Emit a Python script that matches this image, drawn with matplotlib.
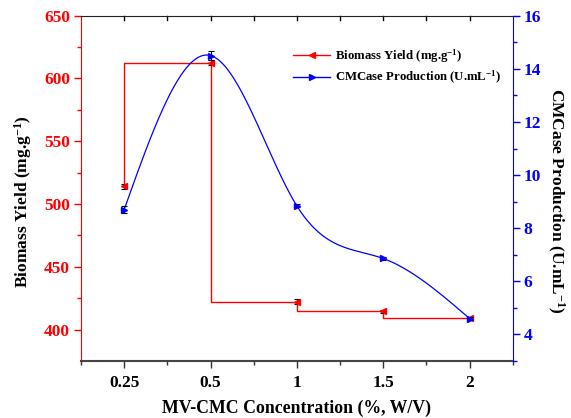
import numpy as np
import matplotlib
matplotlib.use("Agg")
import matplotlib.pyplot as plt
from matplotlib.lines import Line2D
from matplotlib.ticker import FixedLocator, MultipleLocator

plt.rcParams['font.family'] = ['Liberation Serif', 'DejaVu Serif']
plt.rcParams['font.weight'] = 'bold'
plt.rcParams['mathtext.fontset'] = 'custom'
plt.rcParams['mathtext.rm'] = 'Liberation Serif:bold'
plt.rcParams['mathtext.bf'] = 'Liberation Serif:bold'
plt.rcParams['mathtext.it'] = 'Liberation Serif:bold'
plt.rcParams['mathtext.default'] = 'rm'

# ---- data ----
categories = ['0.25', '0.5', '1', '1.5', '2']
biomass = [514, 612.5, 422, 414.5, 409]
biomass_err = [2.0, 2.0, 2.0, 1.5, 1.0]
cmcase = [8.7, 14.5, 8.84, 6.86, 4.6]
cmcase_err = [0.12, 0.18, 0.06, 0.06, 0.05]

pos = np.arange(1, len(categories) + 1, dtype=float)


def natural_spline(x, y, n=300):
    x = np.asarray(x, float); y = np.asarray(y, float)
    k = len(x)
    h = np.diff(x)
    A = np.zeros((k, k)); b = np.zeros(k)
    A[0, 0] = 1; A[-1, -1] = 1
    for i in range(1, k - 1):
        A[i, i - 1] = h[i - 1]
        A[i, i] = 2 * (h[i - 1] + h[i])
        A[i, i + 1] = h[i]
        b[i] = 3 * ((y[i + 1] - y[i]) / h[i] - (y[i] - y[i - 1]) / h[i - 1])
    c = np.linalg.solve(A, b)
    xs = np.linspace(x[0], x[-1], n)
    ys = np.empty_like(xs)
    for j, xv in enumerate(xs):
        i = min(np.searchsorted(x, xv, side='right') - 1, k - 2)
        bb = (y[i + 1] - y[i]) / h[i] - h[i] * (2 * c[i] + c[i + 1]) / 3
        d = (c[i + 1] - c[i]) / (3 * h[i])
        t = xv - x[i]
        ys[j] = y[i] + bb * t + c[i] * t ** 2 + d * t ** 3
    return xs, ys


W, H = 571, 418
fig = plt.figure(figsize=(W / 100, H / 100), dpi=100)
ax_h = (361 - 15.7)
ax_w = (512.7 - 81)
ax = fig.add_axes([81 / W, 1 - 361 / H, ax_w / W, ax_h / H])
ax2 = ax.twinx()

# biomass step line
ax.plot(pos, biomass, drawstyle='steps-pre', color='red', lw=1.0, zorder=2)
ax.errorbar(pos, biomass, yerr=biomass_err, fmt='<', color='red', ms=4,
            ecolor='black', elinewidth=0.8, capsize=2.5, capthick=0.8, zorder=3)

# cmcase spline
xs, ys = natural_spline(pos, cmcase)
ax2.plot(xs, ys, color='blue', lw=0.9, zorder=2)
ax2.errorbar(pos, cmcase, yerr=cmcase_err, fmt='>', color='blue', ms=4,
             ecolor='black', elinewidth=0.8, capsize=2.5, capthick=0.8, zorder=3)

ax.set_xlim(0.5, 5.5)
ax.set_ylim(375, 650)
ax2.set_ylim(3, 16)

ax.set_xticks(pos)
ax.set_xticklabels(categories)
ax.xaxis.set_minor_locator(FixedLocator(np.arange(0.5, 5.6, 1.0)))
ax.set_yticks(np.arange(400, 651, 50))
ax.yaxis.set_minor_locator(FixedLocator(np.arange(425, 651, 50)))
ax2.set_yticks(np.arange(4, 17, 2))
ax2.yaxis.set_minor_locator(MultipleLocator(1))

TS = 12.5
ax.tick_params(axis='x', which='major', direction='out', length=5, width=1,
               labelsize=TS, colors='#333333', labelcolor='black', pad=5, top=False)
ax.tick_params(axis='x', which='minor', direction='out', length=3, width=1,
               colors='#333333', top=False)
ax.tick_params(axis='y', which='major', direction='out', length=5, width=1,
               colors='red', labelsize=TS, labelcolor='red', pad=3)
ax.tick_params(axis='y', which='minor', direction='out', length=3, width=1, colors='red')
ax2.tick_params(axis='y', which='major', direction='out', length=5, width=1,
                colors='blue', labelsize=TS, labelcolor='blue', pad=3)
ax2.tick_params(axis='y', which='minor', direction='out', length=3, width=1, colors='blue')

# top ticks inward
for xv in np.arange(1.0, 5.01, 0.5):
    ax.plot([xv, xv], [650, 650 - 4.5 / 1.2544], color='black', lw=1,
            clip_on=False, zorder=1)

for lbl in ax.get_xticklabels() + ax.get_yticklabels() + ax2.get_yticklabels():
    lbl.set_fontweight('bold')

ax.spines['left'].set_color('red')
ax.spines['bottom'].set_color('#444444')
ax.spines['bottom'].set_linewidth(1.5)
ax.spines['top'].set_color('#222222')
ax.spines['right'].set_visible(False)
ax2.spines['right'].set_color('blue')
ax2.spines['left'].set_visible(False)
ax2.spines['top'].set_visible(False)
ax2.spines['bottom'].set_visible(False)

LS = 12.5
ax.set_xlabel('MV-CMC Concentration (%, W/V)', fontsize=12.8, fontweight='bold')
ax.xaxis.set_label_coords(0.5, (361 - 399.5) / ax_h)
ax.set_ylabel('Biomass Yield (mg.g$^{-1}$)', fontsize=LS, fontweight='bold', va='center')
ax.yaxis.set_label_coords((23 - 81) / ax_w, (361 - 202) / ax_h)
ax2.set_ylabel('CMCase Production (U.mL$^{-1}$)', fontsize=LS, fontweight='bold',
               rotation=-90, va='center')
ax2.yaxis.set_label_coords((556 - 81) / ax_w, (361 - 201) / ax_h)

handles = [
    Line2D([], [], color='red', marker='<', ms=5, lw=1),
    Line2D([], [], color='blue', marker='>', ms=5, lw=1),
]
labels = ['Biomass Yield (mg.g$^{-1}$)', 'CMCase Production (U.mL$^{-1}$)']
leg = ax.legend(handles, labels, loc='upper left', frameon=False,
                bbox_to_anchor=(293 / W, 1 - 47 / H), bbox_transform=fig.transFigure,
                prop={'family': 'Liberation Serif', 'weight': 'bold', 'size': 9.2},
                borderpad=0, borderaxespad=0, handlelength=2.9, handletextpad=0.35,
                labelspacing=0.35, numpoints=1)

fig.savefig('out.png', dpi=100)
